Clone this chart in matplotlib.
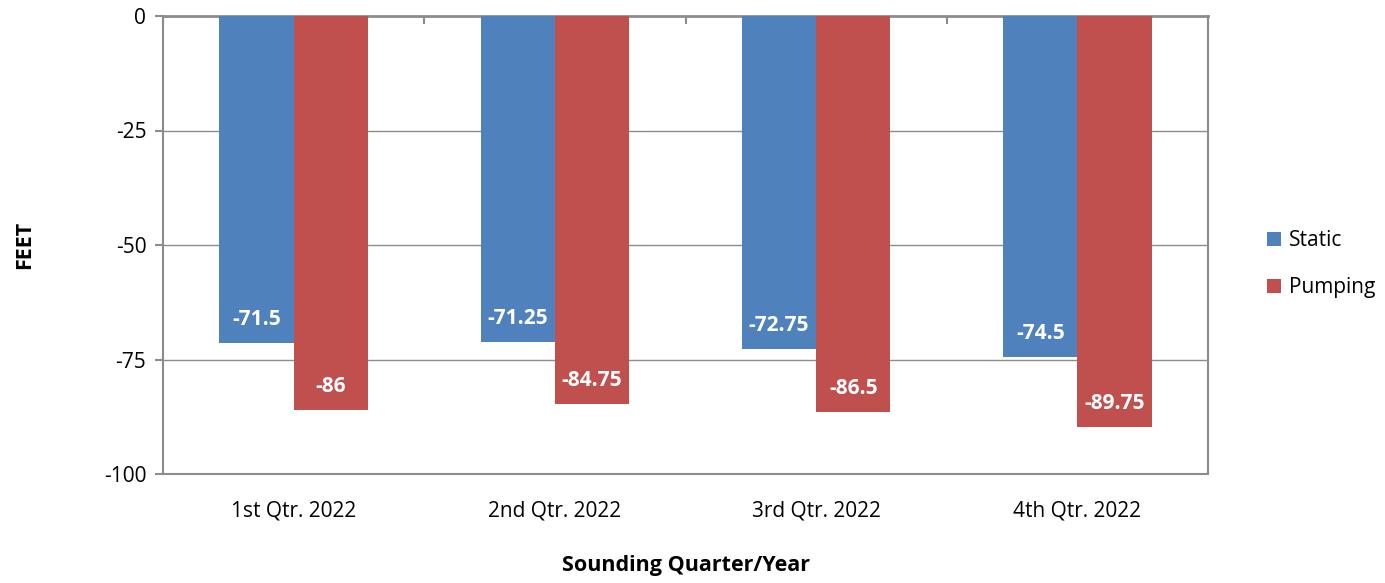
import matplotlib
matplotlib.use("Agg")
import matplotlib.pyplot as plt
import numpy as np

QUARTERS = ["1st Qtr. 2022", "2nd Qtr. 2022", "3rd Qtr. 2022", "4th Qtr. 2022"]
STATIC   = [-71.5, -71.25, -72.75, -74.5]
PUMPING  = [-86, -84.75, -86.5, -89.75]
Y_TICKS  = [0, -25, -50, -75, -100]

BLUE  = "#4F81BD"
RED   = "#C0504D"
GREY  = "#8C8C8C"
FONT  = "Open Sans"

plt.rcParams["font.family"] = [FONT, "DejaVu Sans"]

fig = plt.figure(figsize=(13.85, 5.83), dpi=100)
ax = fig.add_axes([163 / 1385, 1 - 474 / 583, (1208 - 163) / 1385, (474 - 16) / 583])

x  = np.arange(len(QUARTERS))
bw = 0.284

b1 = ax.bar(x - bw / 2, STATIC, bw, color=BLUE, label="Static", zorder=3)
b2 = ax.bar(x + bw / 2, PUMPING, bw, color=RED, label="Pumping", zorder=3)

for bars, vals in [(b1, STATIC), (b2, PUMPING)]:
    for bar, v in zip(bars, vals):
        ax.annotate(f"{v:g}", (bar.get_x() + bar.get_width() / 2, v),
                    xytext=(0, 17), textcoords="offset points",
                    ha="center", va="center", color="white",
                    fontsize=15, fontweight="bold", zorder=4)

ax.set_xlim(-0.5, 3.5)
ax.set_ylim(-100, 0)
ax.set_yticks(Y_TICKS)
ax.set_yticklabels([str(t) for t in Y_TICKS], fontsize=15)
ax.yaxis.grid(True, color=GREY, lw=1, zorder=0)

# category labels under the plot, boundary ticks on the zero line (top)
ax.set_xticks(x)
ax.set_xticklabels(QUARTERS, fontsize=15)
ax.tick_params(axis="x", length=0, pad=19)
ax.set_xticks(np.arange(-0.5, 4.0, 1.0), minor=True)
ax.tick_params(axis="x", which="minor", top=True, bottom=False, length=6,
               color=GREY, width=1.5, direction="in")
ax.tick_params(axis="y", length=6, color=GREY, width=1.5, pad=6)

for s in ax.spines.values():
    s.set_color(GREY)
    s.set_linewidth(1.5)
ax.spines["top"].set_linewidth(2)

fig.text(25 / 1385, 1 - 245 / 583, "FEET", rotation=90, fontsize=15.5,
         fontweight="bold", ha="center", va="center")
ax.set_xlabel("Sounding Quarter/Year", fontsize=15.5, fontweight="bold", labelpad=24)

fig.legend(handles=[b1, b2], labels=["Static", "Pumping"],
           loc="center left", bbox_to_anchor=(1267 / 1385, 1 - 264 / 583),
           frameon=False, fontsize=15, handlelength=0.65, handleheight=0.65,
           handletextpad=0.4, labelspacing=1.25, borderpad=0, borderaxespad=0)

fig.savefig("out.png", dpi=100)
